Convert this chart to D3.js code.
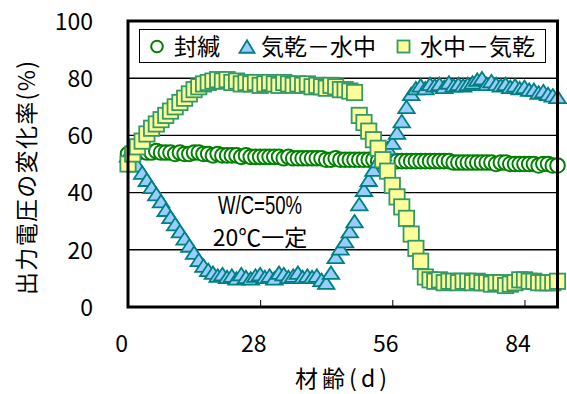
<!DOCTYPE html>
<html><head><meta charset="utf-8">
<script src="https://cdn.jsdelivr.net/npm/d3@7"></script>
<style>
html,body{margin:0;padding:0;background:#fff;}
text{font-family:"Noto Sans CJK JP","Noto Sans",sans-serif;fill:#000;}
</style></head>
<body>
<svg id="chart" width="567" height="394"></svg>
<script>
// ---- data ----
const days = [0,1,2,3,4,5,6,7,8,9,10,11,12,13,14,15,16,17,18,19,20,21,22,23,24,25,26,27,28,29,30,31,32,33,34,35,36,37,38,39,40,41,42,43,44,45,46,47,48,49,50,51,52,53,54,55,56,57,58,59,60,61,62,63,64,65,66,67,68,69,70,71,72,73,74,75,76,77,78,79,80,81,82,83,84,85,86,87,88,89,90,91];
const sealed = [53.5,54,54,54.5,54,54,54.5,54,54,54,
  53.5,54,53.5,53.5,54,54,53.5,53.5,53,53.5,
  53,53,53,53,52.5,53,52.5,52.5,52.5,52.5,
  52.5,52.5,52.5,52,52.5,52,52,52,52,52,
  52,52,51.5,51.5,52,51.5,51.5,51.5,51.5,51.5,
  51.5,51.5,51.5,51,51.5,51.5,51,51,51,51,
  51,51,51,51,51,51,51,51,51,50.5,
  50.5,50.5,50.5,50.5,50.5,50.5,50.5,50.5,50,50.5,
  50.5,50,50,50,50,50,50,49.5,50,50,
  49.5,49.5];
const dryToWater = [53,51,49.5,47,44.5,42,39.5,37,34,31.5,
  29,26.5,24,21.5,19,16.5,14.5,13,12,11,
  11.5,10.5,11,10,11.5,10.5,10,11,11.5,10.5,
  11,10,12,11.5,10.5,11,12,10.5,11,10.5,
  11,9.5,8.5,12,17.5,20.5,23,26.5,30,36,
  41,44.5,48,51,53.5,55.5,57.5,61,65,70,
  74.5,76.5,77.5,76.5,78,77.5,78,77,78.5,77.5,
  78,77.5,78,78.5,79.5,80,78,79,78,77.5,
  78,77,77.5,76.5,77,76,76,75,75.5,74.5,
  74,73.5];
const waterToDry = [50,53.5,56,58,60.5,62.5,64,65.5,67,68.5,
  70,71.5,73,74.5,76,77,78,78.5,79,79.5,
  79,79.5,78.5,79,78,78.5,78,78.5,77.5,78,
  78.5,78,77.5,78.5,78,77.5,78,77.5,78,77,
  77.5,77,76.5,77.5,77,76,76,75.5,75,67,
  64.5,61.5,58.5,55.5,51.5,47.5,42.5,38.5,35,31,
  25.5,20.5,16,10.5,9.5,9,9.5,8.5,9,9,
  8.5,9,9,8.5,9,8.5,8.5,8,8.5,8.5,
  7.5,8,8.5,9.5,9.5,9,9,8.5,8.5,8.5,
  8.5,9];
const seriesNames = ["封緘","気乾－水中","水中－気乾"];
const xTicks = [0,28,56,84];
const yTicks = [0,20,40,60,80,100];
const xTitle = "材齢(d)";
const yTitle = "出力電圧の変化率(%)";
const note1 = "W/C=50%";
const note2 = "20℃一定";

// ---- layout ----
const svg = d3.select("#chart");
const L = 128, R = 557.5, T = 21, B = 307;
const x = d3.scaleLinear().domain([0, 91]).range([L, R]);
const y = d3.scaleLinear().domain([0, 100]).range([B, T]);
const FS = 23;

// gridlines
svg.append("g").selectAll("line").data(yTicks.filter(v => v > 0 && v < 100)).join("line")
  .attr("x1", L).attr("x2", R).attr("y1", d => y(d)).attr("y2", d => y(d))
  .attr("stroke", "#000").attr("stroke-width", 1.4);

// x axis ticks (inward), labels offset
const xAxis = d3.axisBottom(x).tickValues(xTicks).tickSizeInner(-7).tickSizeOuter(0).tickFormat(d3.format("d"));
const gx = svg.append("g").attr("transform", `translate(0,${B})`).call(xAxis);
gx.select(".domain").remove();
gx.selectAll("line").attr("stroke", "#000").attr("stroke-width", 1);
gx.selectAll("text").attr("dy", null).attr("y", 45).attr("x", -7)
  .style("font-size", FS + "px").style("font-family", '"Noto Sans CJK JP",sans-serif').attr("fill", "#000");

// y axis labels
const yAxis = d3.axisLeft(y).tickValues(yTicks).tickSize(0).tickPadding(35).tickFormat(d3.format("d"));
const gy = svg.append("g").attr("transform", `translate(${L},0)`).call(yAxis);
gy.select(".domain").remove();
gy.selectAll("text").attr("dy", "0.36em")
  .style("font-size", FS + "px").style("font-family", '"Noto Sans CJK JP",sans-serif').attr("fill", "#000");

// annotations
svg.append("text").attr("x", 260).attr("y", 213.5).attr("text-anchor", "middle")
  .style("font-family", '"Liberation Sans",Arial,sans-serif')
  .style("font-size", "25px").attr("textLength", 84).attr("lengthAdjust", "spacingAndGlyphs").text(note1);
svg.append("text").attr("x", 260).attr("y", 245.5).attr("text-anchor", "middle")
  .style("font-size", FS + "px").text(note2);

// markers
const triPath = (w, h) => `M0,${-h/2}L${w/2},${h/2}L${-w/2},${h/2}Z`;
const plot = svg.append("g");
plot.append("g").selectAll("circle").data(days).join("circle")
  .attr("cx", d => x(d)).attr("cy", (d, i) => y(sealed[i])).attr("r", 7.3)
  .attr("fill", "#fff").attr("stroke", "#008000").attr("stroke-width", 2);
plot.append("g").selectAll("path").data(days).join("path")
  .attr("transform", (d, i) => `translate(${x(d)},${y(dryToWater[i])})`)
  .attr("d", triPath(16.5, 12.5))
  .attr("fill", "#99CCFF").attr("stroke", "#008080").attr("stroke-width", 1.8).attr("stroke-linejoin", "miter");
const SQ = 15.3;
plot.append("g").selectAll("rect").data(days).join("rect")
  .attr("x", d => x(d) - SQ/2).attr("y", (d, i) => y(waterToDry[i]) - SQ/2)
  .attr("width", SQ).attr("height", SQ)
  .attr("fill", "#FFFF99").attr("stroke", "#339966").attr("stroke-width", 1.8);

// frame
svg.append("rect").attr("x", L).attr("y", T).attr("width", R - L).attr("height", B - T)
  .attr("fill", "none").attr("stroke", "#000").attr("stroke-width", 3);

// legend
const lg = svg.append("g");
lg.append("rect").attr("x", 139.5).attr("y", 29.5).attr("width", 406).attr("height", 33)
  .attr("fill", "#fff").attr("stroke", "#000").attr("stroke-width", 1);
lg.append("circle").attr("cx", 157).attr("cy", 46.5).attr("r", 5.8)
  .attr("fill", "#fff").attr("stroke", "#008000").attr("stroke-width", 2);
lg.append("path").attr("transform", "translate(247,46.5)").attr("d", triPath(15, 12.5))
  .attr("fill", "#99CCFF").attr("stroke", "#008080").attr("stroke-width", 1.8);
lg.append("rect").attr("x", 397.5).attr("y", 40.5).attr("width", 12).attr("height", 12)
  .attr("fill", "#FFFF99").attr("stroke", "#339966").attr("stroke-width", 1.8);
const lgX = [174, 261, 420];
lg.selectAll("text.lt").data(seriesNames).join("text").attr("class", "lt")
  .attr("x", (d, i) => lgX[i]).attr("y", 55).style("font-size", FS + "px").text(d => d);

// axis titles
svg.append("text").attr("x", 341).attr("y", 387).attr("text-anchor", "middle")
  .attr("textLength", 92).attr("lengthAdjust", "spacing")
  .style("font-size", FS + "px").text(xTitle);
svg.append("text").attr("transform", "translate(35,178) rotate(-90)").attr("text-anchor", "middle")
  .attr("textLength", 234).attr("lengthAdjust", "spacing")
  .style("font-size", FS + "px").text(yTitle);
</script>
</body></html>
